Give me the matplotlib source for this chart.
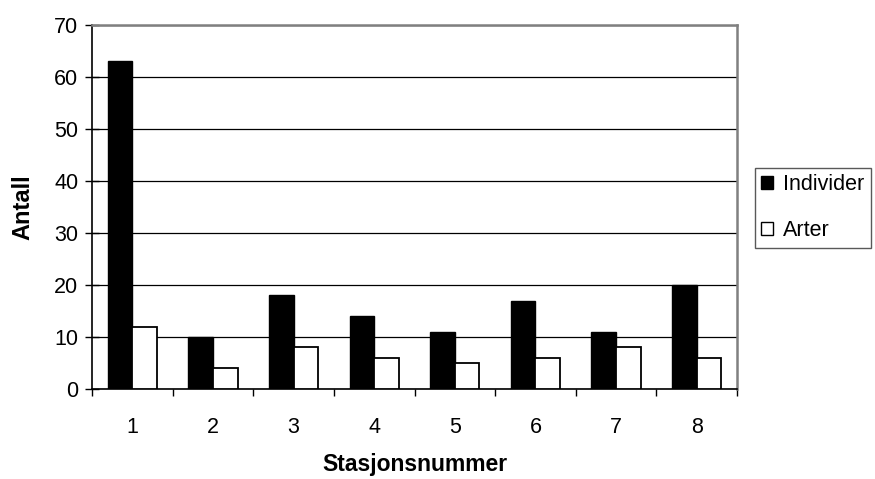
import matplotlib
matplotlib.use("Agg")
import matplotlib.pyplot as plt
import numpy as np
from matplotlib.patches import Patch

plt.rcParams['font.family'] = ['Liberation Sans', 'DejaVu Sans']

stations = ["1", "2", "3", "4", "5", "6", "7", "8"]
individer = [63, 10, 18, 14, 11, 17, 11, 20]
arter = [12, 4, 8, 6, 5, 6, 8, 6]

fig = plt.figure(figsize=(8.75, 4.79), dpi=100)
ax = fig.add_axes([92/875, 1-389/479, (737-92)/875, (389-25)/479])

x = np.arange(len(stations))
w = 0.305
ax.bar(x - w/2, individer, w, color='black', edgecolor='black', linewidth=1, label='Individer', zorder=3)
ax.bar(x + w/2, arter, w, color='white', edgecolor='black', linewidth=1.3, label='Arter', zorder=3)

ax.set_xlim(-0.5, len(stations) - 0.5)
ax.set_ylim(0, 70)
ax.set_yticks(np.arange(0, 71, 10))
ax.yaxis.grid(True, color='black', linewidth=0.9, zorder=0)
ax.set_axisbelow(True)

ax.set_xticks(x)
ax.set_xticklabels(stations, fontsize=15.5)
ax.set_xticks(np.arange(-0.5, len(stations)), minor=True)
ax.tick_params(axis='x', which='major', length=0, pad=20)
ax.tick_params(axis='x', which='minor', length=5, width=1, direction='out')
ax.tick_params(axis='y', labelsize=15.5, length=9.5, width=1, direction='inout', pad=5)

for s in ['top', 'right']:
    ax.spines[s].set_color('#808080')
    ax.spines[s].set_linewidth(1.8)
ax.spines['left'].set_linewidth(1.2)
ax.spines['bottom'].set_linewidth(1.2)

ax.set_ylabel('Antall', fontsize=17, fontweight='bold', labelpad=14)
ax.set_xlabel('Stasjonsnummer', fontsize=16.5, fontweight='bold', labelpad=11)

handles = [Patch(facecolor='black', edgecolor='black', label='Individer'),
           Patch(facecolor='white', edgecolor='black', label='Arter')]
leg = fig.legend(handles=handles, loc='upper left', bbox_to_anchor=(755/875, 1-168/479),
                 borderaxespad=0, fontsize=15.5, frameon=True, fancybox=False, edgecolor='#303030',
                 handlelength=0.55, handleheight=0.55, handletextpad=0.45,
                 borderpad=0.3, labelspacing=1.15)
leg.get_frame().set_linewidth(1)

fig.savefig('out.png', dpi=100)
